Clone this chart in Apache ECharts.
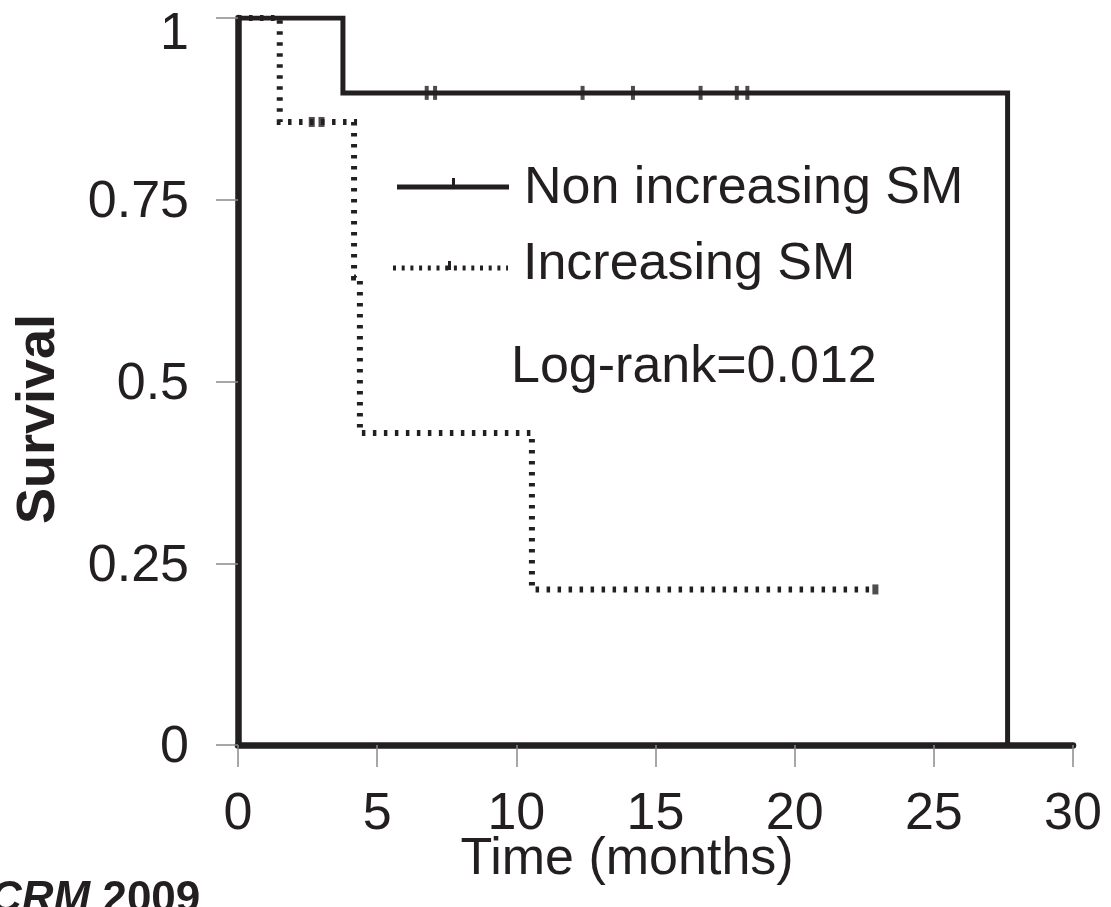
<!DOCTYPE html>
<html>
<head>
<meta charset="utf-8">
<script src="https://cdn.jsdelivr.net/npm/echarts@6/dist/echarts.min.js"></script>
<style>
html, body { margin: 0; padding: 0; background: #fff; }
#main { width: 1111px; height: 907px; }
</style>
</head>
<body>
<div id="main"></div>
<script>
// Kaplan-Meier curves
var nonIncTime = [0, 3.77, 27.65, 27.65];
var nonIncSurv = [1, 0.897, 0.897, 0];
var nonIncCensorTime = [6.78, 7.08, 12.38, 14.19, 16.62, 17.92, 18.3];
var nonIncCensorSurv = [0.897, 0.897, 0.897, 0.897, 0.897, 0.897, 0.897];

var incTime = [0, 1.5, 4.17, 4.38, 10.56, 22.9];
var incSurv = [1, 0.857, 0.643, 0.429, 0.214, 0.214];
var incCensorTime = [2.65, 3.0, 22.9];
var incCensorSurv = [0.857, 0.857, 0.214];

var xTicks = [0, 5, 10, 15, 20, 25, 30];
var yTicks = [0, 0.25, 0.5, 0.75, 1];

var ink = '#231f20';
var font = '"Liberation Sans", Arial, sans-serif';

function pairs(xs, ys) {
    var res = [];
    for (var i = 0; i < xs.length; i++) res.push([xs[i], ys[i]]);
    return res;
}

var chart = echarts.init(document.getElementById('main'));

var option = {
    animation: false,
    backgroundColor: '#fff',
    textStyle: { fontFamily: font },
    grid: {
        left: 238, right: 38, top: 18, bottom: 162,
        containLabel: false,
        outerBoundsMode: 'none'
    },
    xAxis: {
        type: 'value',
        min: xTicks[0], max: xTicks[xTicks.length - 1], interval: 5,
        splitLine: { show: false },
        axisLine: { onZero: false, lineStyle: { color: ink, width: 6.5 } },
        axisTick: { length: 22, lineStyle: { color: '#8a8a8a', width: 1.5 } },
        axisLabel: { fontSize: 52, color: ink, margin: 44, fontFamily: font }
    },
    yAxis: {
        type: 'value',
        min: yTicks[0], max: yTicks[yTicks.length - 1], interval: 0.25,
        splitLine: { show: false },
        axisLine: { onZero: false, lineStyle: { color: ink, width: 6.5 } },
        axisTick: { length: 22, lineStyle: { color: '#8a8a8a', width: 1.5 } },
        axisLabel: {
            fontSize: 52, color: ink, margin: 49, fontFamily: font,
            formatter: function (v) {
                return v === 1 ? '{top|1}' : '{n|' + v + '}';
            },
            rich: {
                top: { fontSize: 52, color: ink, fontFamily: font, padding: [34, 0, 0, 0] },
                n: { fontSize: 52, color: ink, fontFamily: font, padding: [6, 0, 0, 0] }
            }
        }
    },
    series: [
        {
            name: 'Non increasing SM',
            type: 'line',
            step: 'end',
            symbol: 'none',
            data: pairs(nonIncTime, nonIncSurv),
            lineStyle: { color: ink, width: 5, cap: 'butt', join: 'miter' },
            z: 3
        },
        {
            name: 'Non increasing SM censored',
            type: 'scatter',
            symbol: 'rect',
            symbolSize: [4, 14],
            data: pairs(nonIncCensorTime, nonIncCensorSurv),
            itemStyle: { color: ink },
            z: 3
        },
        {
            name: 'Increasing SM',
            type: 'line',
            step: 'end',
            symbol: 'none',
            data: pairs(incTime, incSurv),
            lineStyle: { color: ink, width: 6, type: [3.5, 7.5], cap: 'butt', join: 'miter' },
            z: 4
        },
        {
            name: 'Increasing SM censored',
            type: 'scatter',
            symbol: 'rect',
            symbolSize: [6, 10],
            data: pairs(incCensorTime, incCensorSurv),
            itemStyle: { color: ink },
            z: 4
        }
    ],
    graphic: [
        // legend
        { type: 'line', shape: { x1: 397, y1: 187, x2: 509, y2: 187 }, style: { stroke: ink, lineWidth: 5 } },
        { type: 'rect', shape: { x: 452, y: 178, width: 3, height: 9 }, style: { fill: ink } },
        { type: 'text', x: 524, y: 215, style: { text: 'Non increasing SM', font: '52px ' + font, fill: ink, textVerticalAlign: 'bottom' } },
        { type: 'line', shape: { x1: 393, y1: 268, x2: 508, y2: 268 }, style: { stroke: ink, lineWidth: 5, lineDash: [3, 5.7] } },
        { type: 'rect', shape: { x: 448, y: 261, width: 3, height: 9 }, style: { fill: ink } },
        { type: 'text', x: 523, y: 291, style: { text: 'Increasing SM', font: '52px ' + font, fill: ink, textVerticalAlign: 'bottom' } },
        { type: 'text', x: 511, y: 394, style: { text: 'Log-rank=0.012', font: '52px ' + font, fill: ink, textVerticalAlign: 'bottom' } },
        // axis titles
        { type: 'text', x: 627, y: 860, style: { text: 'Time (months)', font: '52px ' + font, fill: ink, textAlign: 'center', textVerticalAlign: 'middle' } },
        { type: 'text', x: 39, y: 419, rotation: Math.PI / 2, style: { text: 'Survival', font: 'bold 54px ' + font, fill: ink, textAlign: 'center', textVerticalAlign: 'middle' } },
        // source note
        { type: 'text', x: -10, y: 922, style: {
            text: '{i|CRM }{b|2009}',
            rich: {
                i: { font: 'italic bold 44px ' + font, fill: ink },
                b: { font: 'bold 44px ' + font, fill: ink }
            },
            textVerticalAlign: 'bottom'
        } }
    ]
};

chart.setOption(option);
</script>
</body>
</html>
